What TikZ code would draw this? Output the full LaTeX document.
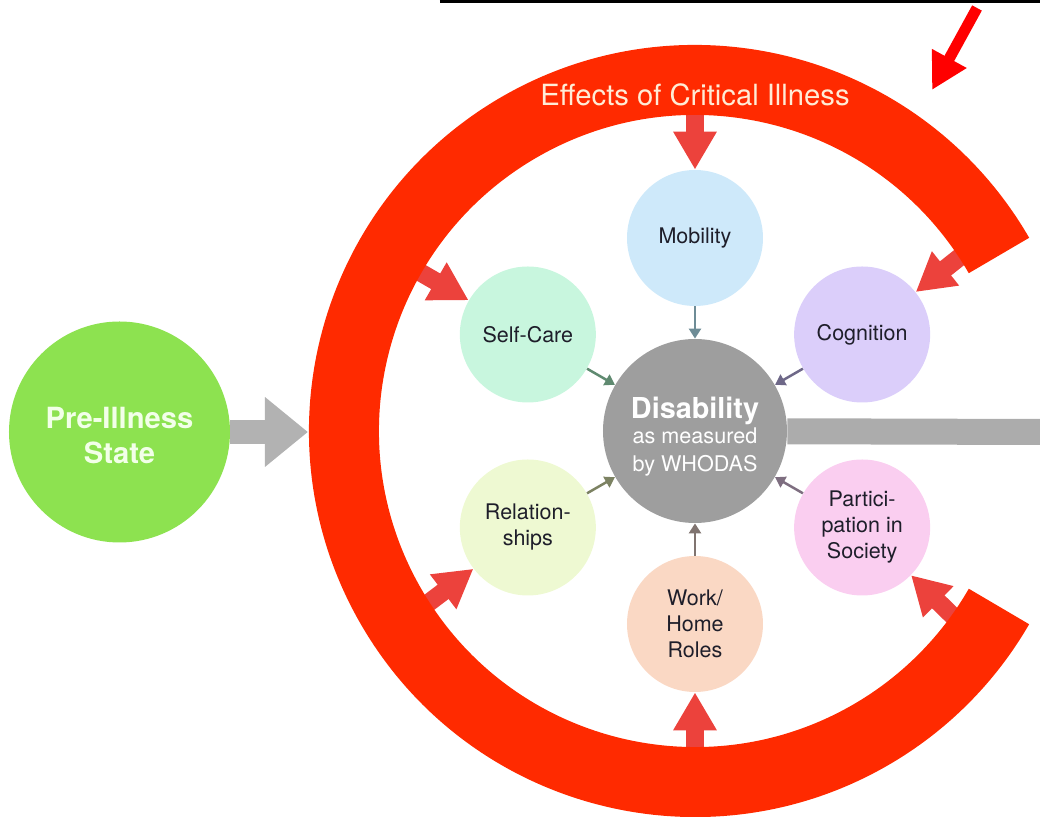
\documentclass[tikz,border=0pt]{standalone}
\usepackage{fontspec}
\setmainfont{TeX Gyre Heros}
\usepackage{tikz}
\usetikzlibrary{arrows.meta}
\usepackage{xcolor}
\definecolor{ringred}{RGB}{255,42,0}
\definecolor{cuered}{RGB}{255,0,0}
\definecolor{hitred}{RGB}{236,66,60}
\definecolor{ringtext}{RGB}{255,236,214}
\definecolor{pregreen}{RGB}{141,226,80}
\definecolor{pretext}{RGB}{242,255,232}
\definecolor{disgray}{RGB}{158,158,158}
\definecolor{flowgray}{RGB}{178,178,178}
\definecolor{bargray}{RGB}{172,172,172}
\definecolor{sattext}{RGB}{30,30,42}
\definecolor{mobfill}{RGB}{206,233,250}
\definecolor{selffill}{RGB}{200,246,222}
\definecolor{cogfill}{RGB}{219,206,250}
\definecolor{relfill}{RGB}{238,249,210}
\definecolor{partfill}{RGB}{250,206,240}
\definecolor{workfill}{RGB}{250,216,196}
\definecolor{mobline}{RGB}{110,140,150}
\definecolor{selfline}{RGB}{95,138,112}
\definecolor{cogline}{RGB}{110,104,136}
\definecolor{relline}{RGB}{124,130,98}
\definecolor{partline}{RGB}{126,110,128}
\definecolor{workline}{RGB}{128,116,112}

\begin{document}
\begin{tikzpicture}[x=0.5pt,y=0.5pt,
  sat/.style={circle,minimum size=68pt,inner sep=0pt,align=center,text=sattext,
    font=\fontsize{10.75}{13}\selectfont},
  hitarrow/.style={hitred,line width=9pt,-{Triangle[width=20.5pt,length=19pt]}},
  feedarrow/.style={line width=1.25pt,-{Triangle[width=6pt,length=5pt]}}]
  \useasboundingbox (-695,-386) rectangle (345,431);
  \draw[line width=1.5pt] (-255,429.5) -- (345,429.5);

  \node[circle,fill=disgray,minimum size=92pt,inner sep=0pt,align=center,text=white,
    font=\fontsize{10.8}{14}\selectfont] (dis) at (0,0)
    {\rule{0pt}{16.5pt}{\fontsize{14.4}{17}\selectfont\bfseries Disability}\\[-1.5pt]as measured\\by WHODAS};
  \node[sat,fill=mobfill]  (mob)  at (90:193)  {Mobility};
  \node[sat,fill=selffill] (self) at (150:193) {Self-Care};
  \node[sat,fill=cogfill]  (cog)  at (30:193)  {Cognition};
  \node[sat,fill=relfill]  (rel)  at (210:193) {Relation-\\ships};
  \node[sat,fill=partfill] (part) at (330:193) {Partici-\\pation in\\Society};
  \node[sat,fill=workfill] (work) at (270:193) {Work/\\Home\\Roles};
  \node[circle,fill=pregreen,minimum size=110.5pt,inner sep=0pt,align=center,text=pretext,
    font=\fontsize{14.6}{17.5}\selectfont\bfseries] (pre) at (-575.5,-1) {\rule{0pt}{13.7pt}Pre-Illness\\State};

  \draw[hitarrow] (90:330)   -- (mob);
  \draw[hitarrow] (150:330)  -- (self);
  \draw[hitarrow] (213:330)  -- (rel);
  \draw[hitarrow] (270:330)  -- (work);
  \draw[hitarrow] (-36:330)  -- (part);
  \draw[hitarrow] (33.5:330) -- (cog);

  \draw[ringred,line width=35pt] (30:351) arc[start angle=30,end angle=330,radius=175.5pt];
  \node[text=ringtext,font=\fontsize{14.6}{17}\selectfont] (effects) at (0,336) {Effects of Critical Illness};

  \draw[feedarrow,mobline]  (mob)  -- (dis);
  \draw[feedarrow,selfline] (self) -- (dis);
  \draw[feedarrow,cogline]  (cog)  -- (dis);
  \draw[feedarrow,relline]  (rel)  -- (dis);
  \draw[feedarrow,partline] (part) -- (dis);
  \draw[feedarrow,workline] (work) -- (dis);

  \coordinate (ringW) at (-387,-1);
  \coordinate (exit) at (345,-1);
  \draw[flowgray,line width=12pt,-{Triangle[width=33.5pt,length=21.5pt]}] (pre) -- (ringW);
  \draw[bargray,line width=13pt] (dis) -- (exit);

  \coordinate (cuetail) at (282,423);
  \coordinate (cuetip) at (237,341);
  \draw[cuered,line width=5.5pt,-{Triangle[width=18.5pt,length=18pt]}] (cuetail) -- (cuetip);
\end{tikzpicture}
\end{document}
